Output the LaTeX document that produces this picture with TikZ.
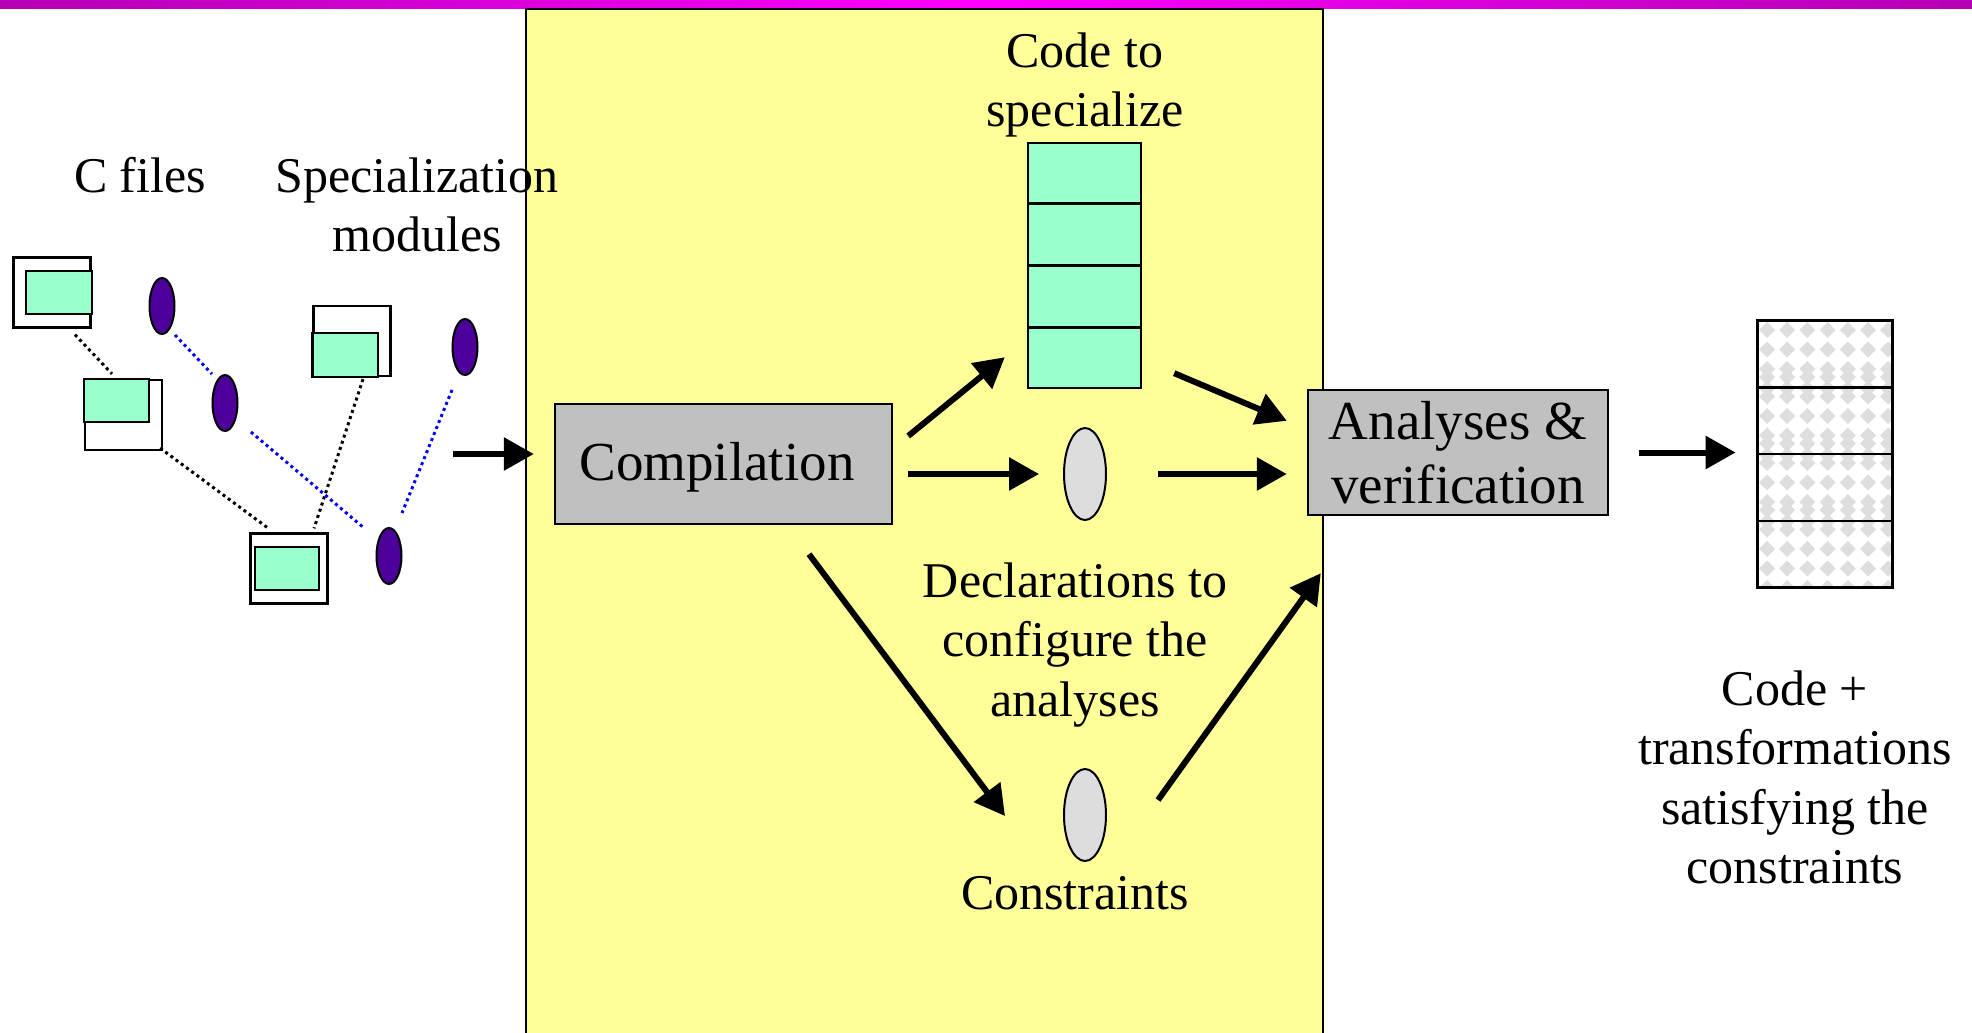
\documentclass[tikz,border=0pt]{standalone}
\usepackage{fontspec}
\setmainfont{Liberation Serif}
\usetikzlibrary{arrows.meta,shapes.geometric,calc}

\definecolor{barpurple}{RGB}{180,0,180}
\definecolor{barmagenta}{RGB}{255,0,255}
\definecolor{stageyellow}{RGB}{255,255,153}
\definecolor{cellgreen}{RGB}{153,255,204}
\definecolor{boxgray}{RGB}{192,192,192}
\definecolor{ovalgray}{RGB}{221,221,221}
\definecolor{modviolet}{RGB}{76,0,153}
\definecolor{checkgray}{RGB}{222,222,222}

\begin{document}
\begin{tikzpicture}[x=0.5pt,y=-0.5pt,
  lbl/.style={inner sep=0pt, align=center, font=\fontsize{25}{29.75}\selectfont},
  stage/.style={draw, line width=1.2pt, fill=boxgray, inner sep=0pt, align=center,
                font=\fontsize{27.5}{32}\selectfont},
  cfile/.style={draw, line width=1.1pt, fill=white, inner sep=0pt,
                minimum width=38.5pt, minimum height=35pt},
  cpane/.style={draw, line width=1.1pt, fill=cellgreen},
  module/.style={ellipse, draw, line width=1pt, fill=modviolet, inner sep=0pt,
                 minimum width=12.5pt, minimum height=28pt},
  oval/.style={ellipse, draw, line width=1pt, fill=ovalgray, inner sep=0pt,
               minimum width=21pt, minimum height=46pt},
  arr/.style={line width=3pt, -{Triangle[length=15pt,width=16pt]}},
  blackdots/.style={line width=1.5pt, dash pattern=on 1.5pt off 1.75pt},
  bluedots/.style={blackdots, blue},
]
\useasboundingbox (0,0) rectangle (1972,1033);

% title bar
\shade[left color=barpurple, right color=barpurple, middle color=barmagenta]
  (0,0) rectangle (1972,8);

% compilation / verification stage
\draw[line width=1.2pt, fill=stageyellow] (526,9) rectangle (1323,1045);

% ---------- sources: C files and specialization modules ----------
\node[cfile] (c1) at (52,292.5) {};
\draw[cpane] (26,271) rectangle (c1.east |- 0,314);
\node[cfile] (c2) at (123.5,415) {};
\draw[cpane] (c2.north west) rectangle (149,422);
\node[cfile] (c3) at (352,341) {};
\draw[cpane] (c3.south west) rectangle (378,333);
\node[cfile] (c4) at (289,568.5) {};
\draw[cpane] (255,547) rectangle (319,590);

\node[module] (s1) at (162,306) {};
\node[module] (s2) at (225,403) {};
\node[module] (s3) at (465,347) {};
\node[module] (s4) at (389,556) {};

\draw[blackdots] ([shift={(23,6)}]c1.south) -- ([shift={(-11.5,-5)}]c2.north);
\draw[blackdots] ([shift={(-3,-3)}]c2.south east) -- ([shift={(19,-4)}]c4.north west);
\draw[blackdots] ([shift={(11,2)}]c3.south) -- ([shift={(25,-4)}]c4.north);
\draw[bluedots] ([shift={(13,0)}]s1.south) -- ([shift={(-13,0)}]s2.north);
\draw[bluedots] ([shift={(26,0)}]s2.south) -- ([shift={(-25,1)}]s4.north);
\draw[bluedots] ([shift={(-13,14)}]s3.south) -- ([shift={(13,-14)}]s4.north);

\node[lbl, anchor=base] (cfiles) at (140,192) {C files};
\node[lbl, anchor=north] (specmods) at (417,152) {\rule{0pt}{20pt}Specialization\\modules};

% ---------- compilation stage ----------
\node[stage, minimum width=168.5pt, minimum height=60pt] (comp) at (723.5,464) {};
\node[stage, draw=none, fill=none, anchor=base] (complbl) at (717,480) {Compilation};

\node[draw, line width=1.2pt, fill=cellgreen, inner sep=0pt,
      minimum width=56.5pt, minimum height=122.5pt] (code) at (1084.5,265.5) {};
\foreach \f in {0.25,0.5,0.75}
  \draw[line width=1.2pt] ($(code.north west)!\f!(code.south west)$) -- ($(code.north east)!\f!(code.south east)$);

\node[oval] (decl) at (1085,474) {};
\node[oval] (cons) at (1085,815) {};

\node[lbl, anchor=north] (codelbl) at (1085,27) {\rule{0pt}{20pt}Code to\\specialize};
\node[lbl, anchor=north] (decllbl) at (1075,557) {\rule{0pt}{20pt}Declarations to\\configure the\\analyses};
\node[lbl, anchor=base] (conslbl) at (1075,909) {Constraints};

\node[stage, minimum width=150pt, minimum height=62.5pt] (ana) at (1458,452.5) {Analyses \&\\verification};

% ---------- result: specialized code ----------
\node[fill=white, inner sep=0pt, minimum width=67pt, minimum height=133pt] (res) at (1825,454) {};
\begin{scope}
  \clip (res.north west) rectangle (res.south east);
  \foreach \r in {0,...,3}
    \foreach \i in {-1,...,7}
      \foreach \j in {-1,...,3}
        \fill[checkgray] ({1767+20.2*\i},{330+66.5*\r+19.5*\j})
          +(-8,0) -- +(0,-8) -- +(8,0) -- +(0,8) -- cycle;
\end{scope}
\draw[line width=1.2pt] (res.north west) rectangle (res.south east);
\foreach \f in {0.25,0.5,0.75}
  \draw[line width=1.2pt] ($(res.north west)!\f!(res.south west)$) -- ($(res.north east)!\f!(res.south east)$);

\node[lbl, anchor=north] (reslbl) at (1795,665) {\rule{0pt}{20pt}Code +\\transformations\\satisfying the\\constraints};

% ---------- flow arrows ----------
\coordinate (inflow) at (453,454);
\draw[arr, shorten >=10pt] (inflow) -- (inflow -| comp.west);
\draw[arr] ([shift={(15,-28)}]comp.east) -- ([shift={(-22,-32)}]code.south west);
\draw[arr, shorten <=7.5pt, shorten >=12pt] (comp.east |- decl.west) -- (decl.west);
\draw[arr] ([shift={(85.5,29)}]comp.south) -- ([shift={(-58,1)}]cons.west);
\draw[arr] ([shift={(32,-16)}]code.south east) -- ([shift={(-20,32)}]ana.north west);
\draw[arr, shorten <=25.5pt, shorten >=10pt] (decl.east) -- (decl.east -| ana.west);
\draw[arr] ([shift={(51,-15)}]cons.east) -- ([shift={(14,57)}]ana.south west);
\draw[arr, shorten <=15pt, shorten >=11pt] (ana.east) -- (ana.east -| res.west);
\end{tikzpicture}
\end{document}
